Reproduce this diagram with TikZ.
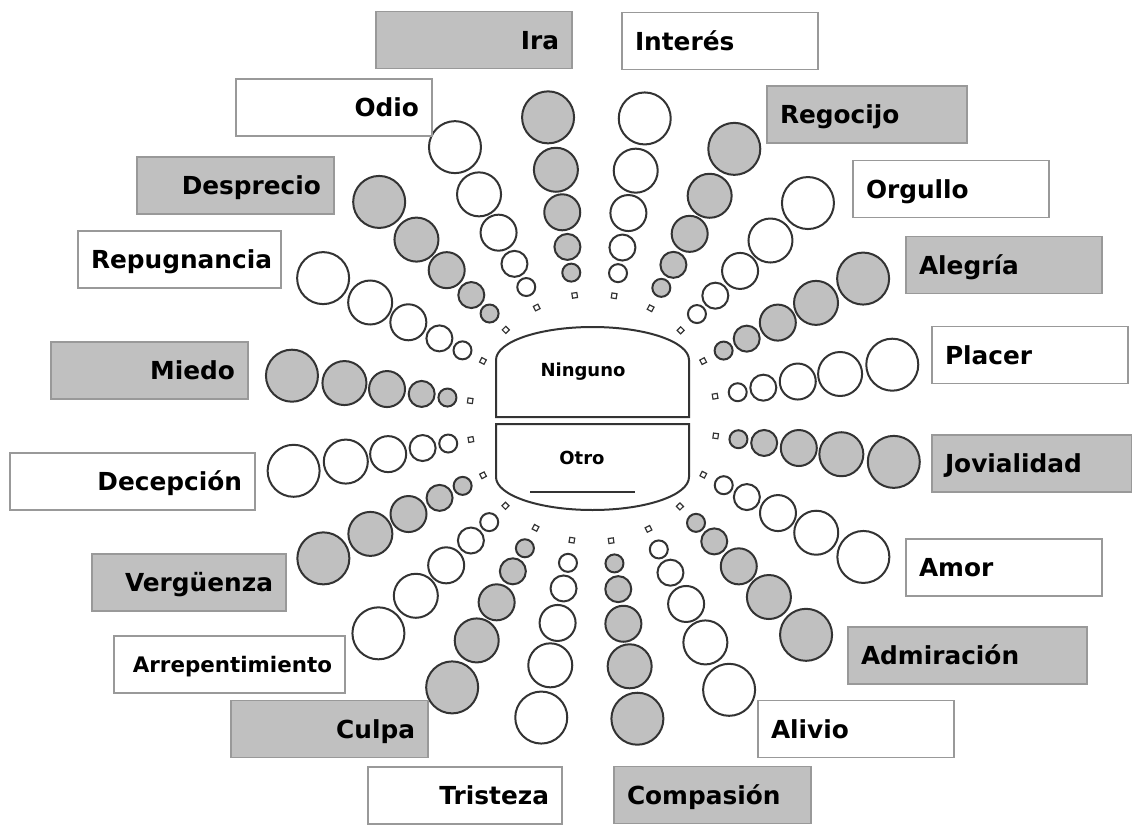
\documentclass[tikz,border=0pt]{standalone}
\usepackage{fontspec}
\setmainfont{DejaVu Sans}
\usepackage{tikz}

\definecolor{wheelgray}{HTML}{C0C0C0}
\definecolor{rimgray}{HTML}{999999}
\definecolor{inkgray}{HTML}{333333}

\tikzset{
  lbox/.style={draw=rimgray, line width=0.75pt, inner xsep=6.5pt, inner ysep=0pt,
    minimum height=28.5pt, text width=85pt, text height=9pt, text depth=0pt,
    font=\fontsize{12.4}{14}\selectfont\bfseries},
  gbox/.style={lbox, fill=wheelgray},
  wbox/.style={lbox, fill=white},
  bead/.style={draw=inkgray, line width=1pt},
  seed/.style={draw=inkgray, fill=white, line width=0.6pt, minimum size=2.5pt, inner sep=0pt},
  hub/.style={draw=inkgray, line width=1pt}
}

\begin{document}
\begin{tikzpicture}[x=0.5pt,y=0.5pt]
\useasboundingbox (0,0) rectangle (1132,-825);
% spokes: angle / fill
\begin{scope}[shift={(593,-418)}]
\foreach \a/\f [count=\i] in {98.5/wheelgray, 80.2/white, 62.3/wheelgray, 45/white, 27.3/wheelgray,
    10.1/white, -8.3/wheelgray, -27.2/white, -45.5/wheelgray, -63.4/white,
    -81.6/wheelgray, -99.8/white, -117.6/wheelgray, -134.9/white, -152.5/wheelgray,
    -170/white, 172/wheelgray, 152.6/white, 134.7/wheelgray, 117/white} {
  \node [seed, rotate=\a] (s\i) at (\a:124) {};
  \foreach \d/\r in {147/9, 173/13, 208/18, 251/22, 304/26}
    \draw [bead, fill=\f] (\a:\d) circle (\r);
}
\end{scope}
% centre
\draw [hub] (496,-417) -- (496,-360) arc[start angle=180, end angle=0, x radius=96.5, y radius=33] -- (689,-417) -- cycle;
\draw [hub] (496,-424) -- (496,-477) arc[start angle=180, end angle=360, x radius=96.5, y radius=33] -- (689,-424) -- cycle;
\node [font=\fontsize{9}{11}\selectfont\bfseries] (ninguno) at (583,-372) {Ninguno};
\node [font=\fontsize{9}{11}\selectfont\bfseries] (otro) at (582,-458) {Otro};
\draw [hub] (530,-492) -- (635,-492);
% labels
\node [gbox, align=right] (ira) at (474,-40) {Ira};
\node [wbox, align=left] (interes) at (720,-41) {Interés};
\node [gbox, align=left, text width=87pt] (regocijo) at (867,-114.5) {Regocijo};
\node [wbox, align=left] (orgullo) at (951,-189) {Orgullo};
\node [gbox, align=left] (alegria) at (1004,-265) {Alegría};
\node [wbox, align=left] (placer) at (1030,-355) {Placer};
\node [gbox, align=left, text width=87pt] (jovialidad) at (1032,-463.5) {Jovialidad};
\node [wbox, align=left] (amor) at (1004,-567.5) {Amor};
\node [gbox, align=left, text width=106.5pt] (admiracion) at (967.5,-655.5) {Admiración};
\node [wbox, align=left] (alivio) at (856,-729) {Alivio};
\node [gbox, align=left, text width=85.5pt] (compasion) at (712.5,-795) {Compasión};
\node [wbox, align=right, text width=84pt] (tristeza) at (465,-795.5) {Tristeza};
\node [gbox, align=right, text width=85.5pt] (culpa) at (329.5,-729) {Culpa};
\node [wbox, align=right, text width=102.5pt, text height=7.8pt,
  font=\fontsize{10.7}{13}\selectfont\bfseries] (arrepentimiento) at (229.5,-664.5) {Arrepentimiento};
\node [gbox, align=right, text width=84pt] (verguenza) at (189,-582.5) {Vergüenza};
\node [wbox, align=right, text width=109.5pt] (decepcion) at (132.5,-481.5) {Decepción};
\node [gbox, align=right, text width=85.5pt] (miedo) at (149.5,-370.5) {Miedo};
\node [wbox, align=right, text width=88.5pt] (repugnancia) at (179.5,-259.5) {Repugnancia};
\node [gbox, align=right, text width=85.5pt] (desprecio) at (235.5,-185.5) {Desprecio};
\node [wbox, align=right] (odio) at (334,-107.5) {Odio};
\end{tikzpicture}
\end{document}
